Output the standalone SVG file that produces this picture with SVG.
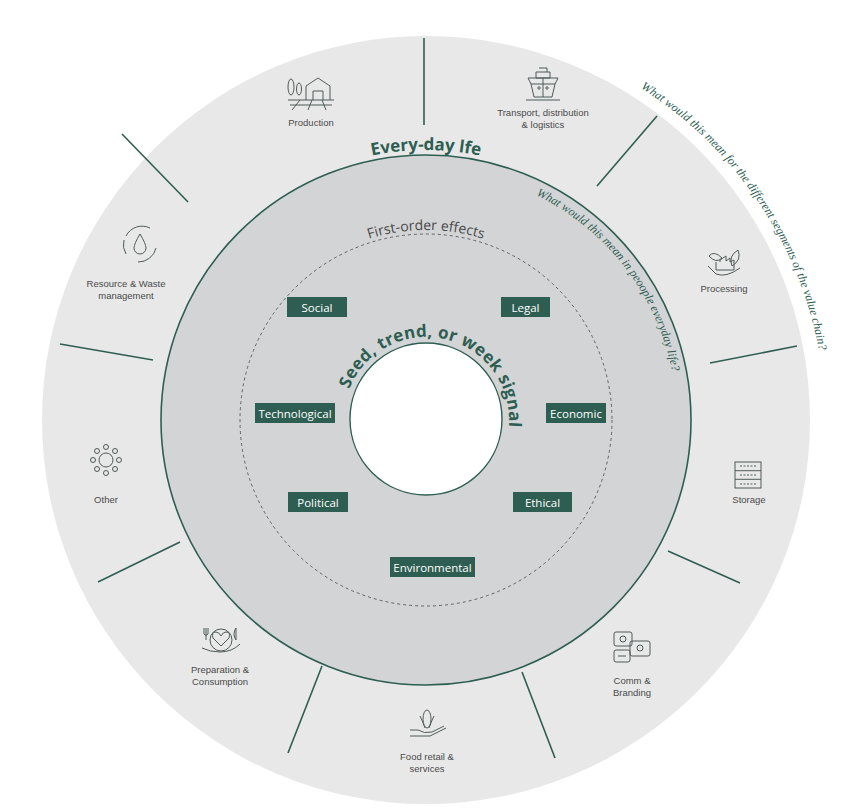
<svg xmlns="http://www.w3.org/2000/svg" width="843" height="809" viewBox="0 0 843 809">
<style>
.lab{font-family:"Liberation Sans",Arial,sans-serif;font-size:9.5px;fill:#4a4a4a;text-anchor:middle}
.div{stroke:#2e5e52;stroke-width:1.6}
.ic{fill:none;stroke:#4f5b58;stroke-width:1}
.tag rect{fill:#2e5e52}
.tag text{font-family:"Open Sans","Liberation Sans",sans-serif;font-size:11.5px;fill:#fff;text-anchor:middle}
.q{font-family:"Liberation Serif",serif;font-style:italic;font-size:12px;fill:#2e5e52}
</style>
<defs>
<path id="pOuterQ" d="M 640.6 88.1 A 395 395 0 0 1 825 400"/>
<path id="pInnerQ" d="M 536 195 A 251 251 0 0 1 677 420"/>
<path id="pEvery2" d="M 156 420 A 270 270 0 0 1 696 420"/>
<path id="pFirst" d="M 236 420 A 190 190 0 0 1 616 420"/>
<path id="pSeed" d="M 348 448 A 83 83 0 1 1 454.4 498"/>
</defs>
<rect width="843" height="809" fill="#fff"/>
<g id="rings">
<circle cx="426" cy="420" r="384" fill="#e8e8e8"/>
<circle cx="426" cy="420" r="265" fill="#d3d4d5" stroke="#2e5e52" stroke-width="1.6"/>
<circle cx="426" cy="420" r="186" fill="none" stroke="#555" stroke-width="0.9" stroke-dasharray="3,3"/>
<circle cx="426" cy="419" r="76" fill="#fff" stroke="#2e5e52" stroke-width="1.4"/>
</g>
<g id="connectors">
<line class="div" x1="424" y1="38" x2="424" y2="125"/>
<line class="div" x1="657" y1="116" x2="597" y2="186"/>
<line class="div" x1="797" y1="346" x2="710" y2="363"/>
<line class="div" x1="740" y1="583" x2="668" y2="551"/>
<line class="div" x1="555" y1="758" x2="522" y2="672"/>
<line class="div" x1="322" y1="666" x2="288" y2="753"/>
<line class="div" x1="180" y1="542" x2="98" y2="582"/>
<line class="div" x1="60" y1="344" x2="153" y2="360"/>
<line class="div" x1="122" y1="134" x2="188" y2="202"/>
</g>
<g id="curved-texts">
<text class="q"><textPath href="#pOuterQ">What would this mean for the different segments of  the value chain?</textPath></text>
<text class="q" font-size="12"><textPath href="#pInnerQ">What would this mean in peoople everyday life?</textPath></text>
<text font-family="Open Sans,Liberation Sans,sans-serif" font-weight="bold" font-size="17" fill="#2e5e52" text-anchor="middle"><textPath href="#pEvery2" startOffset="50%">Every-day lfe</textPath></text>
<text font-family="Open Sans,Liberation Sans,sans-serif" font-size="14" fill="#4a4a4a" text-anchor="middle"><textPath href="#pFirst" startOffset="50%">First-order effects</textPath></text>
<text font-family="Open Sans,Liberation Sans,sans-serif" font-weight="bold" font-size="17" fill="#2e5e52" letter-spacing="0.3"><textPath href="#pSeed" startOffset="60">Seed, trend, or week signal</textPath></text>
</g>
<g id="tags" class="tag">
<g id="t-social"><rect x="287" y="297" width="60" height="20"/><text x="317" y="311.5">Social</text></g>
<g id="t-legal"><rect x="501" y="297" width="49" height="20"/><text x="525.5" y="311.5">Legal</text></g>
<g id="t-tech"><rect x="255" y="403" width="80" height="20"/><text x="295" y="417.5">Technological</text></g>
<g id="t-econ"><rect x="546" y="403" width="60" height="20"/><text x="576" y="417.5">Economic</text></g>
<g id="t-pol"><rect x="288" y="492" width="60" height="20"/><text x="318" y="506.5">Political</text></g>
<g id="t-eth"><rect x="513" y="492" width="59" height="20"/><text x="542.5" y="506.5">Ethical</text></g>
<g id="t-env"><rect x="390" y="557" width="85" height="20"/><text x="432.5" y="571.5">Environmental</text></g>
</g>
<g id="n-production">
<g class="ic"><ellipse cx="291" cy="87" rx="3" ry="8"/><ellipse cx="299" cy="89" rx="2.5" ry="6"/><path d="M306 100 V86 L318 78 L330 86 V100 M313 100 V91 H323 V100 M288 100 H334 M290 105 H332 M300 100 L292 110 M312 100 L308 110 M322 100 L326 110"/></g>
<text class="lab" x="311" y="126">Production</text>
</g>
<g id="n-transport">
<g class="ic"><path d="M536 72 H550 V78 H536 Z M539 68 H547 V72 M531 84 H555 L552 97 H534 Z M531 84 L528 78 H558 L555 84 M543 78 V97 M526 100 H560"/><circle cx="539" cy="88" r="1.2"/><circle cx="547" cy="88" r="1.2"/></g>
<text class="lab" x="543" y="116">Transport, distribution</text>
<text class="lab" x="543" y="128">&amp; logistics</text>
</g>
<g id="n-processing">
<g class="ic"><path d="M709 256 Q714 250 722 258 Q716 264 709 256 M738 250 Q742 260 732 266 Q728 256 738 250 M716 262 V270 H734 V260 L730 262 V258 L726 261 V256 L720 260 V262 M708 266 L716 274 Q726 278 740 268"/></g>
<text class="lab" x="724" y="292">Processing</text>
</g>
<g id="n-storage">
<g class="ic"><rect x="735" y="462" width="26" height="26"/><line x1="735" y1="470.7" x2="761" y2="470.7"/><line x1="735" y1="479.3" x2="761" y2="479.3"/><path d="M740 466 H756 M740 475 H756 M740 484 H756" stroke-dasharray="2,1.5"/></g>
<text class="lab" x="749" y="503">Storage</text>
</g>
<g id="n-comm">
<g class="ic"><rect x="614" y="632" width="18" height="14" rx="2"/><rect x="630" y="641" width="20" height="15" rx="2"/><rect x="614" y="650" width="16" height="12" rx="2"/><circle cx="623" cy="639" r="3"/><circle cx="640" cy="648" r="3"/><path d="M618 656 H626"/></g>
<text class="lab" x="632" y="684">Comm &amp;</text>
<text class="lab" x="632" y="696">Branding</text>
</g>
<g id="n-food">
<g class="ic"><ellipse cx="427" cy="719" rx="4" ry="9"/><path d="M420 716 Q423 722 425 728 M434 716 Q431 722 429 728 M410 730 L418 730 Q424 734 432 732 L444 726 M410 736 H430 L446 728"/></g>
<text class="lab" x="427" y="760">Food retail &amp;</text>
<text class="lab" x="427" y="772">services</text>
</g>
<g id="n-prep">
<g class="ic"><path d="M206 628 V640 M204 628 V634 Q206 637 208 634 V628 M236 628 V640 Q232 634 236 628 M221 646 L213 638 Q211 632 216 632 Q219 632 221 636 Q223 632 226 632 Q231 632 229 638 Z M202 648 Q210 652 220 652 Q232 652 240 644"/><circle cx="221" cy="640" r="11"/></g>
<text class="lab" x="220" y="673">Preparation &amp;</text>
<text class="lab" x="220" y="685">Consumption</text>
</g>
<g id="n-other">
<g class="ic"><circle cx="106" cy="460" r="7"/><circle cx="106" cy="447" r="2.5"/><circle cx="106" cy="473" r="2.5"/><circle cx="93" cy="460" r="2.5"/><circle cx="119" cy="460" r="2.5"/><circle cx="97" cy="451" r="2.5"/><circle cx="115" cy="451" r="2.5"/><circle cx="97" cy="469" r="2.5"/><circle cx="115" cy="469" r="2.5"/></g>
<text class="lab" x="106" y="503">Other</text>
</g>
<g id="n-resource">
<g class="ic"><path d="M126 236 A18 18 0 0 1 150 228 M156 248 A18 18 0 0 1 138 262 M126 254 A18 18 0 0 1 124 240 M140 234 Q134 244 134 248 A6 6 0 0 0 146 248 Q146 244 140 234 Z"/></g>
<text class="lab" x="126" y="287">Resource &amp; Waste</text>
<text class="lab" x="126" y="299">management</text>
</g>
</svg>
